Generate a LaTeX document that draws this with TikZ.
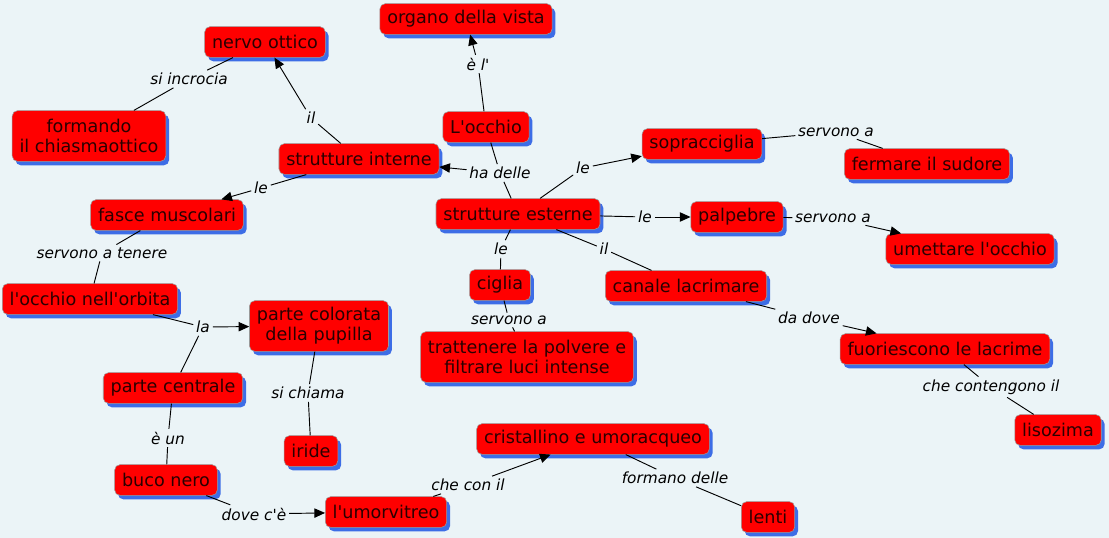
\documentclass[tikz,border=0pt]{standalone}
\usepackage{fontspec}
\setmainfont{DejaVu Sans}
\newfontfamily\mapfont{DejaVu Sans}
\usepackage{tikz}
\usetikzlibrary{arrows.meta, shadows}
\definecolor{bgblue}{HTML}{EBF4F7}
\definecolor{conceptred}{HTML}{FF0000}
\definecolor{shadowblue}{HTML}{3D6DE6}
\definecolor{textdark}{HTML}{2A0000}
\tikzset{
  concept/.style = {
    rectangle, rounded corners=4pt, draw=gray!80, fill=conceptred,
    text=textdark, minimum height=23pt, inner xsep=5.5pt, align=center,
    font=\mapfont\fontsize{13.2}{15}\selectfont,
    drop shadow={shadow xshift=2.5pt, shadow yshift=-3pt, fill=shadowblue, opacity=1}
  },
  twoline/.style = {minimum height=38pt},
  linkphrase/.style = {
    inner sep=2pt, font=\mapfont\itshape\fontsize{11.5}{13}\selectfont
  },
  myarrow/.style = {-{Triangle[length=8pt,width=7pt]}, line width=0.7pt},
  myline/.style = {line width=0.7pt}
}

\begin{document}
\begin{tikzpicture}[x=0.75pt, y=-0.75pt]
  \fill[bgblue] (0,0) rectangle (1109,538);

  % Nodes
  \node[concept] (organo) at (466,19) {organo della vista};
  \node[concept] (nervo) at (265,42) {nervo ottico};
  \node[concept, twoline] (formando) at (89,136) {formando\\il chiasmaottico};
  \node[concept] (occhio) at (486,127) {L'occhio};
  \node[concept] (interne) at (359,159) {strutture interne};
  \node[concept] (soprac) at (702,144) {sopracciglia};
  \node[concept] (sudore) at (927,164) {fermare il sudore};
  \node[concept] (fasce) at (167,215) {fasce muscolari};
  \node[concept] (esterne) at (518,214) {strutture esterne};
  \node[concept] (palpebre) at (737,217) {palpebre};
  \node[concept] (umettare) at (970,249) {umettare l'occhio};
  \node[concept] (orbita) at (90,299) {l'occhio nell'orbita};
  \node[concept] (ciglia) at (500,285) {ciglia};
  \node[concept] (canale) at (686,286) {canale lacrimare};
  \node[concept, twoline] (colorata) at (319,326) {parte colorata\\della pupilla};
  \node[concept, twoline] (polvere) at (527,357) {trattenere la polvere e\\filtrare luci intense};
  \node[concept] (lacrime) at (945,349) {fuoriescono le lacrime};
  \node[concept] (centrale) at (173,388) {parte centrale};
  \node[concept] (lisozima) at (1058,430) {lisozima};
  \node[concept] (iride) at (311,451) {iride};
  \node[concept] (cristallino) at (593,439) {cristallino e umoracqueo};
  \node[concept] (buco) at (166,480) {buco nero};
  \node[concept] (vitreo) at (386,512) {l'umorvitreo};
  \node[concept] (lenti) at (768,517) {lenti};

  % Linking phrases
  \node[linkphrase] (lIncrocia) at (189,79) {si incrocia};
  \node[linkphrase] (lEl) at (478,64) {è l'};
  \node[linkphrase] (lIl1) at (311,118) {il};
  \node[linkphrase] (lHaDelle) at (500,173) {ha delle};
  \node[linkphrase] (lLe1) at (261,188) {le};
  \node[linkphrase] (lLe2) at (583,168) {le};
  \node[linkphrase] (lServ1) at (836,132) {servono a};
  \node[linkphrase] (lLe3) at (645,217) {le};
  \node[linkphrase] (lServ2) at (833,218) {servono a};
  \node[linkphrase] (lLe4) at (501,249) {le};
  \node[linkphrase] (lIl2) at (604,249) {il};
  \node[linkphrase] (lTenere) at (102,253) {servono a tenere};
  \node[linkphrase] (lServ3) at (509,320) {servono a};
  \node[linkphrase] (lDaDove) at (809,318) {da dove};
  \node[linkphrase] (lLa) at (203,327) {la};
  \node[linkphrase] (lChiama) at (308,393) {si chiama};
  \node[linkphrase] (lContengono) at (991,387) {che contengono il};
  \node[linkphrase] (lEun) at (168,438) {è un};
  \node[linkphrase] (lConIl) at (468,485) {che con il};
  \node[linkphrase] (lFormano) at (675,478) {formano delle};
  \node[linkphrase] (lDove) at (254,514) {dove c'è};

  % Connections
  \draw[myline] (occhio) -- (lEl);
  \draw[myarrow] (lEl) -- (organo);
  \draw[myline] (occhio) -- (lHaDelle);
  \draw[myarrow] (lHaDelle) -- (interne);
  \draw[myline] (lHaDelle) -- (esterne);
  \draw[myline] (interne) -- (lIl1);
  \draw[myarrow] (lIl1) -- (nervo);
  \draw[myline] (interne) -- (lLe1);
  \draw[myarrow] (lLe1) -- (fasce);
  \draw[myline] (nervo) -- (lIncrocia);
  \draw[myline] (lIncrocia) -- (formando);
  \draw[myline] (fasce) -- (lTenere);
  \draw[myline] (lTenere) -- (orbita);
  \draw[myline] (orbita) -- (lLa);
  \draw[myarrow] (lLa) -- (colorata);
  \draw[myline] (lLa) -- (centrale);
  \draw[myline] (colorata) -- (lChiama);
  \draw[myline] (lChiama) -- (iride);
  \draw[myline] (centrale) -- (lEun);
  \draw[myline] (lEun) -- (buco);
  \draw[myline] (buco) -- (lDove);
  \draw[myarrow] (lDove) -- (vitreo);
  \draw[myline] (vitreo) -- (lConIl);
  \draw[myarrow] (lConIl) -- (cristallino);
  \draw[myline] (cristallino) -- (lFormano);
  \draw[myline] (lFormano) -- (lenti);
  \draw[myline] (esterne) -- (lLe2);
  \draw[myarrow] (lLe2) -- (soprac);
  \draw[myline] (soprac) -- (lServ1);
  \draw[myline] (lServ1) -- (sudore);
  \draw[myline] (esterne) -- (lLe3);
  \draw[myarrow] (lLe3) -- (palpebre);
  \draw[myline] (palpebre) -- (lServ2);
  \draw[myarrow] (lServ2) -- (umettare);
  \draw[myline] (esterne) -- (lLe4);
  \draw[myline] (lLe4) -- (ciglia);
  \draw[myline] (ciglia) -- (lServ3);
  \draw[myline] (lServ3) -- (polvere);
  \draw[myline] (esterne) -- (lIl2);
  \draw[myline] (lIl2) -- (canale);
  \draw[myline] (canale) -- (lDaDove);
  \draw[myarrow] (lDaDove) -- (lacrime);
  \draw[myline] (lacrime) -- (lContengono);
  \draw[myline] (lContengono) -- (lisozima);
\end{tikzpicture}
\end{document}
